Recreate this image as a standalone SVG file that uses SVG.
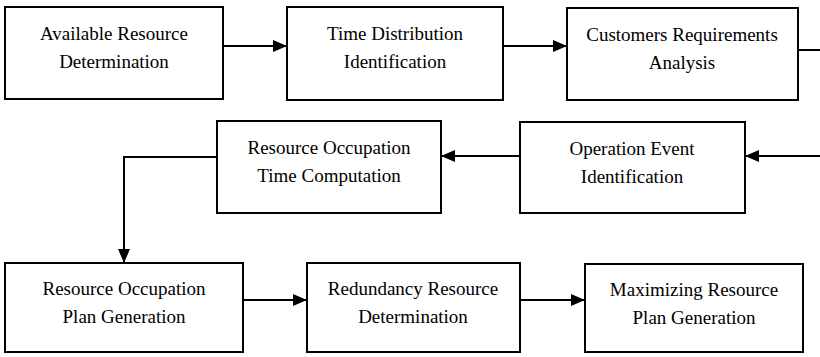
<svg xmlns="http://www.w3.org/2000/svg" width="820" height="357" viewBox="0 0 820 357">
<style>
.box{fill:#fff;stroke:#000;stroke-width:2}
.t{font-family:"Liberation Serif","Times New Roman",serif;font-size:19px;fill:#000;text-anchor:middle}
.c{fill:none;stroke:#000;stroke-width:2}
</style>
<defs>
<marker id="ah" markerWidth="14" markerHeight="12" refX="13" refY="6" orient="auto" markerUnits="userSpaceOnUse">
<path d="M0,0 L14,6 L0,12 Z" fill="#000"/>
</marker>
</defs>
<rect width="820" height="357" fill="#fff"/>
<g id="connectors">
<path class="c" d="M223,46 H286" marker-end="url(#ah)"/>
<path class="c" d="M503,46 H566" marker-end="url(#ah)"/>
<path class="c" d="M798,50 H820"/>
<path class="c" d="M820,156 H746" marker-end="url(#ah)"/>
<path class="c" d="M520,156 H442" marker-end="url(#ah)"/>
<path class="c" d="M217,157 H124 V262" marker-end="url(#ah)"/>
<path class="c" d="M243,300 H306" marker-end="url(#ah)"/>
<path class="c" d="M520,300 H584" marker-end="url(#ah)"/>
</g>
<g id="n1"><rect class="box" x="5" y="7" width="218" height="92"/><text class="t" x="114" y="40">Available Resource</text><text class="t" x="114" y="68">Determination</text></g>
<g id="n2"><rect class="box" x="287" y="7" width="216" height="93"/><text class="t" x="395" y="40">Time Distribution</text><text class="t" x="395" y="68">Identification</text></g>
<g id="n3"><rect class="box" x="567" y="8" width="231" height="92"/><text class="t" x="682" y="41">Customers Requirements</text><text class="t" x="682" y="69">Analysis</text></g>
<g id="n4"><rect class="box" x="217" y="121" width="224" height="92"/><text class="t" x="329" y="154">Resource Occupation</text><text class="t" x="329" y="182">Time Computation</text></g>
<g id="n5"><rect class="box" x="520" y="122" width="225" height="91"/><text class="t" x="632" y="155">Operation Event</text><text class="t" x="632" y="183">Identification</text></g>
<g id="n6"><rect class="box" x="5" y="263" width="238" height="89"/><text class="t" x="124" y="295">Resource Occupation</text><text class="t" x="124" y="323">Plan Generation</text></g>
<g id="n7"><rect class="box" x="307" y="263" width="213" height="89"/><text class="t" x="413" y="295">Redundancy Resource</text><text class="t" x="413" y="323">Determination</text></g>
<g id="n8"><rect class="box" x="585" y="264" width="218" height="88"/><text class="t" x="694" y="296">Maximizing Resource</text><text class="t" x="694" y="324">Plan Generation</text></g>
</svg>
